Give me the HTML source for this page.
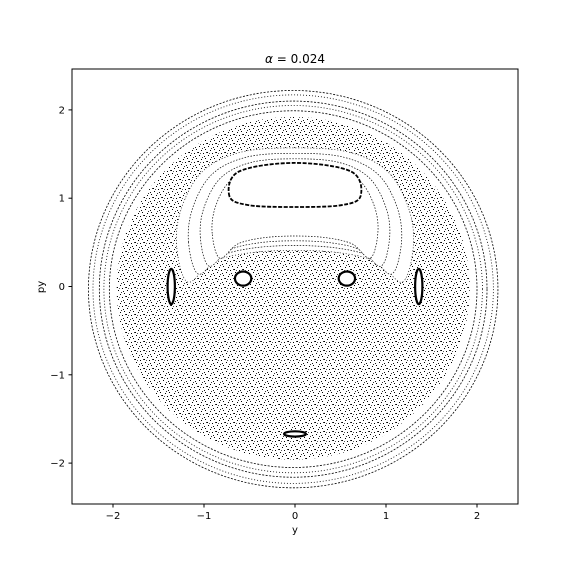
<!DOCTYPE html>
<html><head><meta charset="utf-8"><style>
body{margin:0;background:#fff;font-family:"Liberation Sans","DejaVu Sans",sans-serif}
svg text{font-family:"DejaVu Sans","Liberation Sans",sans-serif;font-size:10px}
</style></head><body>
<svg id="chart" width="576" height="576" viewBox="0 0 576 576" xmlns="http://www.w3.org/2000/svg">
<defs>
<pattern id="sea" width="9" height="9" patternUnits="userSpaceOnUse">
<rect x="1" y="2" width="1" height="1" fill="#000"/><rect x="5" y="0" width="1" height="1" fill="#000"/>
<rect x="7" y="5" width="1" height="1" fill="#000"/><rect x="3" y="6" width="1" height="1" fill="#000"/>
<rect x="0" y="8" width="1" height="1" fill="#000"/><rect x="6" y="3" width="1" height="1" fill="#111"/>
<rect x="4" y="4" width="1" height="1" fill="#333"/><rect x="8" y="8" width="1" height="1" fill="#333"/>
<rect x="2" y="0" width="1" height="1" fill="#555"/>
</pattern>
<clipPath id="plotclip"><rect x="72" y="69" width="446" height="435"/></clipPath>
</defs>
<g id="plot" clip-path="url(#plotclip)"></g>
<rect x="72" y="69" width="446" height="435" fill="none" stroke="#000" stroke-width="1"/>
<g id="axes"></g>
<text x="295" y="63" text-anchor="middle" style="font-size:12px"><tspan font-style="italic">α</tspan> = 0.024</text>
<text x="295" y="533" text-anchor="middle">y</text>
<text x="44" y="287" text-anchor="middle" transform="rotate(-90 44 287)">py</text>
</svg>
<script>
const xTicks=[-2,-1,0,1,2];
const yTicks=[-2,-1,0,1,2];
const ringRadii=[2.02,2.08,2.13,2.2,2.25];
const seaRadius=1.94;
const bananaLayers=[1.0,0.9,0.8,0.7];
const bananaOutline=[[-1.3,0.45],[-1.25,0.88],[-1.02,1.3],[-0.6,1.52],[0,1.57],[0.6,1.52],[1.02,1.3],[1.25,0.88],[1.3,0.45],[1.18,0.05],[0.9,0.28],[0.5,0.38],[0,0.41],[-0.5,0.38],[-0.9,0.28],[-1.18,0.05]];
const bananaCenter=[0,0.95];
const innerCore=[[-0.72,1.02],[-0.62,1.3],[0,1.4],[0.62,1.3],[0.72,1.02],[0.5,0.92],[0,0.9],[-0.5,0.92]];
const islands=[[-0.57,0.09,0.09,0.08],[0.57,0.09,0.09,0.08],[-1.36,0.0,0.04,0.2],[1.36,0.0,0.04,0.2],[0,-1.67,0.12,0.03]];
const X=v=>295+91*v, Y=v=>286.5-88.3*v;
const NS="http://www.w3.org/2000/svg";
const plot=document.getElementById('plot'), axes=document.getElementById('axes');
function mk(tag,attrs,parent){const e=document.createElementNS(NS,tag);for(const k in attrs)e.setAttribute(k,attrs[k]);parent.appendChild(e);return e;}
function smooth(pts){
 const P=pts.map(p=>[X(p[0]),Y(p[1])]);const n=P.length;let d='M'+P[0][0].toFixed(1)+','+P[0][1].toFixed(1);
 for(let i=0;i<n;i++){const p0=P[(i-1+n)%n],p1=P[i],p2=P[(i+1)%n],p3=P[(i+2)%n];
  const c1=[p1[0]+(p2[0]-p0[0])/6,p1[1]+(p2[1]-p0[1])/6],c2=[p2[0]-(p3[0]-p1[0])/6,p2[1]-(p3[1]-p1[1])/6];
  d+=' C'+c1.map(v=>v.toFixed(1)).join(',')+' '+c2.map(v=>v.toFixed(1)).join(',')+' '+p2.map(v=>v.toFixed(1)).join(',');}
 return d+' Z';}
let s=mk('ellipse',{cx:X(-0.02),cy:Y(-0.02),rx:91*seaRadius,ry:88.3*seaRadius,fill:'url(#sea)'},plot);


ringRadii.forEach((r,i)=>{
 let c=mk('ellipse',{cx:X(-0.02),cy:Y(-0.03),rx:91*r,ry:88.3*r,fill:'none',stroke:'#000','stroke-width':0.8,'stroke-dasharray':i%2?'1 2':'2 1.5'},plot);
 
 
});
bananaLayers.forEach((f,i)=>{
 const pts=bananaOutline.map(p=>[bananaCenter[0]+(p[0]-bananaCenter[0])*f,bananaCenter[1]+(p[1]-bananaCenter[1])*f]);
 let b=mk('path',{d:smooth(pts),fill:'#fff',stroke:'#000','stroke-width':0.7,'stroke-dasharray':i===0?'1 2':'1.5 1.5'},plot);
 
 
});
let core=mk('path',{d:smooth(innerCore),fill:'#fff',stroke:'#000','stroke-width':1.8,'stroke-dasharray':'4 1.5'},plot);


islands.forEach(d=>{
 let e=mk('ellipse',{cx:X(d[0]),cy:Y(d[1]),rx:91*d[2],ry:88.3*d[3],fill:'#fff',stroke:'#000','stroke-width':2.2},plot);
 
 
});
xTicks.forEach(v=>{
 mk('line',{x1:X(v),x2:X(v),y1:504,y2:507.5,stroke:'#000'},axes);
 let t=mk('text',{x:X(v),y:519,'text-anchor':'middle'},axes);t.textContent=v<0?'−'+(-v):v;
 
 
});
yTicks.forEach(v=>{
 mk('line',{x1:68.5,x2:72,y1:Y(v),y2:Y(v),stroke:'#000'},axes);
 let t=mk('text',{x:65,y:Y(v)+3.5,'text-anchor':'end'},axes);t.textContent=v<0?'−'+(-v):v;
 
 
});
</script>
</body></html>
